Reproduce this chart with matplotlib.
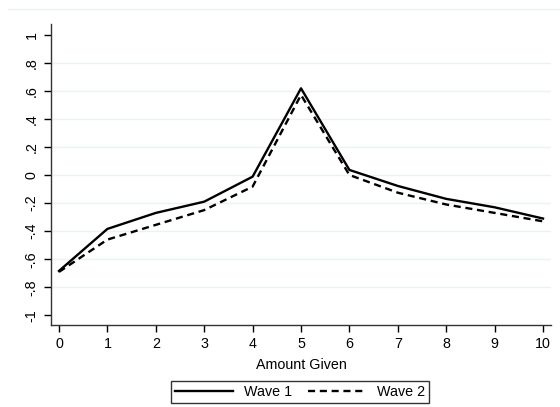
import matplotlib
matplotlib.use('Agg')
import matplotlib.pyplot as plt
from matplotlib.lines import Line2D
import numpy as np

plt.rcParams['font.family'] = ['Liberation Sans', 'DejaVu Sans']

amount = [0, 1, 2, 3, 4, 5, 6, 7, 8, 9, 10]
wave1 = [-0.683, -0.384, -0.27, -0.19, -0.012, 0.617, 0.036, -0.078, -0.17, -0.23, -0.31]
wave2 = [-0.69, -0.46, -0.355, -0.25, -0.083, 0.57, 0.0, -0.126, -0.21, -0.27, -0.33]
yticks = [-1, -0.8, -0.6, -0.4, -0.2, 0, 0.2, 0.4, 0.6, 0.8, 1]
ylabels = ['-1', '-.8', '-.6', '-.4', '-.2', '0', '.2', '.4', '.6', '.8', '1']

grid_col = '#eaf2f3'
fs = 10.3

fig = plt.figure(figsize=(5.6, 4.07), dpi=100)
ax = fig.add_axes([51/560, 82/407, 500/560, 301/407])

# light grid lines, none at the ends
for y in yticks[1:-1]:
    ax.axhline(y, color=grid_col, lw=1.0, zorder=0)

ax.plot(amount, wave1, color='black', lw=1.7, label='Wave 1')
ax.plot(amount, wave2, color='black', lw=1.7, ls=(0, (3, 2)), label='Wave 2')

ax.set_xlim(-0.165, 10.165)
ax.set_ylim(-1.068, 1.075)
ax.set_xticks(amount)
ax.set_yticks(yticks)
ax.set_yticklabels(ylabels, rotation=90, va='center')
ax.tick_params(axis='both', length=5, width=1, labelsize=fs, colors='black', pad=4)
for s in ['top', 'right']:
    ax.spines[s].set_visible(False)
for s in ['left', 'bottom']:
    ax.spines[s].set_linewidth(1.0)
    ax.spines[s].set_color('#333333')

ax.set_xlabel('Amount Given', fontsize=fs, labelpad=5)

leg = fig.legend(loc='center', bbox_to_anchor=(300/560, 1 - 392/407), ncol=2,
                 frameon=True, fancybox=False, fontsize=fs, handlelength=4.0,
                 columnspacing=1.1, borderpad=0.3, handletextpad=0.8)
leg.get_frame().set_edgecolor('black')
leg.get_frame().set_linewidth(1.0)

# thin light line across the top of the graph region
fig.add_artist(Line2D([8/560, 1.0], [1 - 9/407, 1 - 9/407], color=grid_col, lw=1.0))

fig.savefig('out.png', dpi=100)
